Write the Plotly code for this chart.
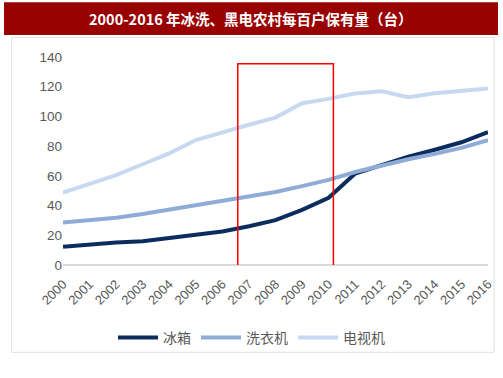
import plotly.graph_objects as go

years = [str(y) for y in range(2000, 2017)]
fridge = [12.3, 14.0, 15.1, 16.0, 18.0, 20.5, 22.5, 26.1, 30.2, 37.1, 45.2, 61.5, 67.3, 72.9, 77.6, 82.6, 89.5]
washer = [28.6, 30.0, 31.8, 34.3, 37.3, 40.2, 42.8, 46.0, 49.1, 53.1, 57.3, 62.6, 67.2, 71.2, 74.8, 78.8, 84.0]
tv = [48.7, 54.4, 60.5, 67.8, 75.1, 84.1, 89.4, 94.4, 99.2, 108.9, 111.8, 115.5, 116.9, 112.9, 115.6, 116.9, 118.8]
names = ["冰箱", "洗衣机", "电视机"]
colors = ["#0b2d5e", "#8eacd6", "#c6d9f0"]
title = "2000-2016 年冰洗、黑电农村每百户保有量（台）"
yticks = [0, 20, 40, 60, 80, 100, 120, 140]

fig = go.Figure()
for n, vals, c in zip(names, [fridge, washer, tv], colors):
    fig.add_trace(go.Scatter(x=years, y=vals, name=n, mode="lines",
                             line=dict(color=c, width=4)))

font = "Noto Sans CJK SC, Liberation Sans, sans-serif"
W, H = 503, 378
L, R, T, B = 63, 15, 57, 112.5
pw, ph = W - L - R, H - T - B


def px(x):
    return (x - L) / pw


def py(y):
    return (H - B - y) / ph


fig.update_layout(
    width=W, height=H,
    margin=dict(l=L, r=R, t=T, b=B, autoexpand=False),
    paper_bgcolor="white", plot_bgcolor="white",
    showlegend=True,
    legend=dict(orientation="h", x=0.5, xanchor="center", xref="container",
                y=1 - 338 / H, yanchor="middle", yref="container",
                font=dict(family=font, size=14, color="#595959"),
                itemwidth=40, tracegroupgap=0, bgcolor="rgba(0,0,0,0)"),
    xaxis=dict(type="category", tickangle=-45, showgrid=False, showline=False,
               ticks="", automargin=False, tickmode="array", tickvals=years,
               ticklabelstandoff=8,
               tickfont=dict(family="Liberation Sans, Arial", size=13, color="#595959")),
    yaxis=dict(range=[0, 140], tickvals=yticks, showgrid=False, zeroline=True,
               zerolinecolor="#d9d9d9", zerolinewidth=1.5, ticks="", automargin=False,
               tickfont=dict(family="Liberation Sans, Arial", size=13.5, color="#595959")),
)

# outer light frame
fig.add_shape(type="rect", xref="paper", yref="paper",
              x0=px(11.7), x1=px(494), y0=py(353), y1=py(37.5),
              line=dict(color="#e0e0e0", width=1), layer="below")
# title bar
fig.add_shape(type="rect", xref="paper", yref="paper",
              x0=px(4), x1=px(498), y0=py(35), y1=py(2),
              fillcolor="#990000", line=dict(width=0), layer="above")
fig.add_annotation(text="<b>" + title + "</b>", xref="paper", yref="paper",
                   x=px(251), y=py(18.5),
                   showarrow=False, xanchor="center", yanchor="middle",
                   font=dict(family=font, size=14.5, color="white"))
# red highlight rectangle
fig.add_shape(type="rect", xref="x", yref="y",
              x0=6.58, x1=10.18, y0=-1.2, y1=135.5,
              line=dict(color="#ff0000", width=1.5))

fig.write_html("out.html", config={"displayModeBar": False},
               post_script="document.body.style.margin='0';document.body.style.overflow='hidden';")
